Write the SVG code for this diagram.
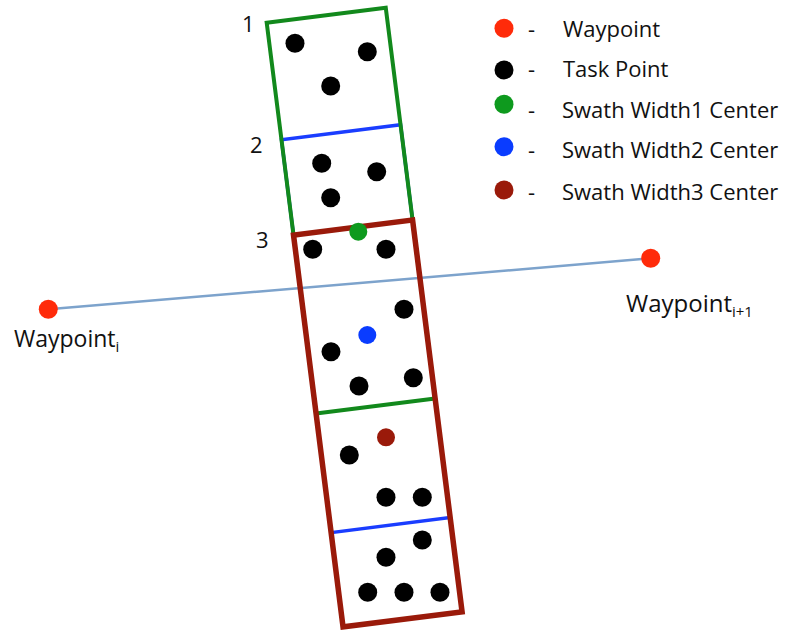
<svg xmlns="http://www.w3.org/2000/svg" width="791" height="630" viewBox="0 0 791 630">
<style>
text{font-family:"Open Sans","Liberation Sans",sans-serif;fill:#111;font-size:22px}
.sub{font-size:15px}
.task{fill:#000}
.wp{fill:#ff2b0a}
.sw{fill:none}
</style>
<rect width="791" height="630" fill="#fff"/>
<g id="connectors">
<line x1="48.3" y1="309.3" x2="650.7" y2="258.3" stroke="#7da3cc" stroke-width="2.5"/>
</g>
<g id="swaths" transform="translate(266.7,22.7) rotate(-7.2)">
<g id="swath2"><rect class="sw" x="0" y="118" width="120" height="396" stroke="#1a3dff" stroke-width="3.5"/></g>
<g id="swath1"><rect class="sw" x="0" y="0" width="120" height="394" stroke="#12891c" stroke-width="4"/></g>
<g id="swath3"><rect class="sw" x="0" y="214" width="120" height="395" stroke="#9a1a0a" stroke-width="5.5"/></g>
</g>
<g id="labels">
<text x="242" y="32">1</text>
<text x="250" y="153">2</text>
<text x="256" y="248">3</text>
</g>
<g id="task-points" class="task">
<circle cx="295" cy="43.3" r="9.5"/>
<circle cx="367.3" cy="51.7" r="9.5"/>
<circle cx="330.7" cy="86" r="9.5"/>
<circle cx="321.7" cy="163.3" r="9.5"/>
<circle cx="376.7" cy="171.7" r="9.5"/>
<circle cx="330.7" cy="197.7" r="9.5"/>
<circle cx="312.7" cy="249.3" r="9.5"/>
<circle cx="386" cy="249.3" r="9.5"/>
<circle cx="404" cy="309.3" r="9.5"/>
<circle cx="331" cy="351.7" r="9.5"/>
<circle cx="359" cy="386" r="9.5"/>
<circle cx="413.3" cy="377.7" r="9.5"/>
<circle cx="349.3" cy="455" r="9.5"/>
<circle cx="386" cy="497.3" r="9.5"/>
<circle cx="422.3" cy="497.3" r="9.5"/>
<circle cx="422.3" cy="540" r="9.5"/>
<circle cx="386" cy="557.3" r="9.5"/>
<circle cx="367.7" cy="592.3" r="9.5"/>
<circle cx="404" cy="592.3" r="9.5"/>
<circle cx="440" cy="592.3" r="9.5"/>
</g>
<g id="centers">
<circle cx="358.3" cy="231.7" r="9" fill="#0e9a1e"/>
<circle cx="367.3" cy="335" r="9" fill="#0a3cff"/>
<circle cx="386" cy="437.3" r="9" fill="#9a1a0a"/>
</g>
<g id="waypoint-i">
<circle class="wp" cx="48.3" cy="309.3" r="9.5"/>
<text x="14" y="347" style="font-size:23px">Waypoint<tspan class="sub" dy="5">i</tspan></text>
</g>
<g id="waypoint-i1">
<circle class="wp" cx="650.7" cy="258.3" r="9.5"/>
<text x="626" y="311.5" style="font-size:24px">Waypoint<tspan class="sub" dy="5">i+1</tspan></text>
</g>
<g id="legend">
<circle class="wp" cx="504" cy="28.3" r="9.5"/>
<text x="528" y="37.3">-</text>
<text x="563" y="37.3">Waypoint</text>
<circle class="task" cx="504" cy="70" r="9.5"/>
<text x="528" y="76.7">-</text>
<text x="563" y="76.7">Task Point</text>
<circle cx="504" cy="104.3" r="9.5" fill="#0e9a1e"/>
<text x="528" y="118.3">-</text>
<text x="562" y="118.3">Swath Width1 Center</text>
<circle cx="504" cy="146.7" r="9.5" fill="#0a3cff"/>
<text x="528" y="158.3">-</text>
<text x="562" y="158.3">Swath Width2 Center</text>
<circle cx="504" cy="190" r="9.5" fill="#9a1a0a"/>
<text x="528" y="200">-</text>
<text x="562" y="200">Swath Width3 Center</text>
</g>
</svg>
